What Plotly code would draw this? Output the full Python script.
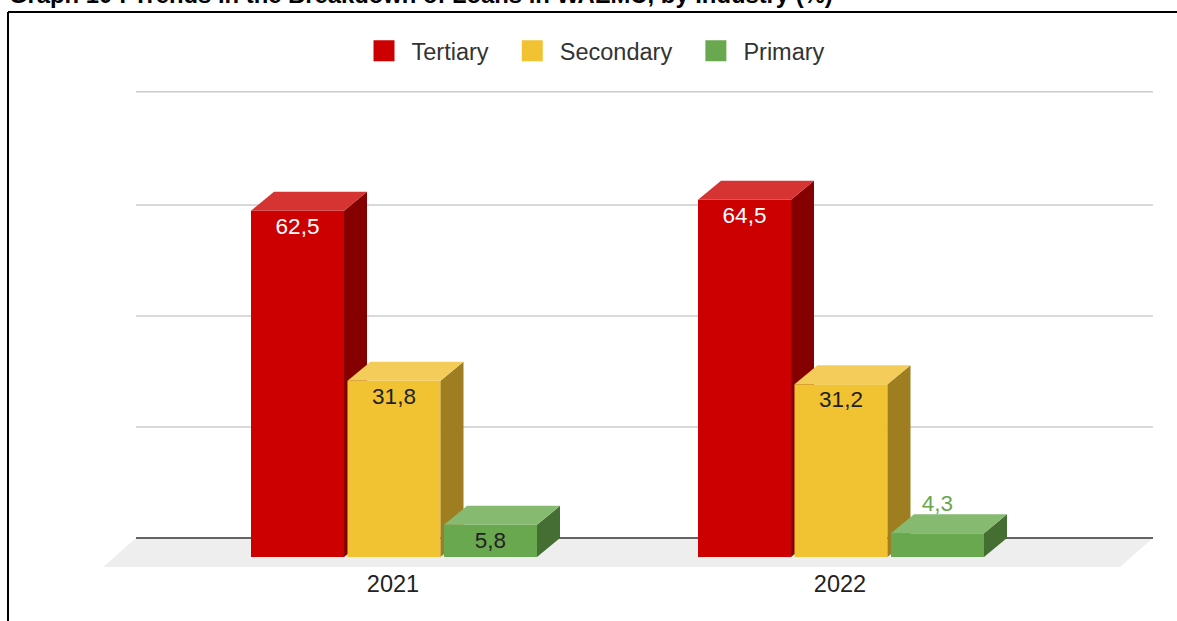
import plotly.graph_objects as go

# Data
years = ["2021", "2022"]
series_names = ["Tertiary", "Secondary", "Primary"]
tertiary = [62.5, 64.5]
secondary = [31.8, 31.2]
primary = [5.8, 4.3]
grid_values = [20, 40, 60, 80.4]
title_text = "Graph 10 : Trends in the Breakdown of Loans in WAEMU, by Industry (%)"

# Style
front = ["#cc0000", "#f1c232", "#6aa84f"]
side = ["#850000", "#9e7e20", "#456e33"]
top = ["#d63333", "#f3cc5a", "#87ba71"]
label_col = ["#ffffff", "#222222", "#222222"]
FONT = "Liberation Sans"
W, H = 1177, 621
L, R, T, B = 103, 24, 80, 54
PX_X = 447.0  # pixels per category
PX_Y = 5.54   # pixels per percentage point
GRID_PX = 5.55  # pixels per percentage point on the back wall
bar_w = 93 / PX_X
pitch = 96.5 / PX_X
center = 2 / PX_X
dx = 23 / PX_X
dy = 19.0 / PX_Y
xr = [(L - 392) / PX_X, (W - R - 392) / PX_X]
yr = [-(567 - 557) / PX_Y, (557 - T) / PX_Y]
floor_l, floor_r = xr[0], xr[1] - 33 / PX_X
floor_bottom = yr[0]
back_l = xr[0] + 33 / PX_X
back_r = xr[1]

fig = go.Figure()

# Legend entries
for i, name in enumerate(series_names):
    fig.add_trace(go.Scatter(
        x=[None], y=[None], mode="markers", name=name + "\u00a0\u2009", legendgroup=name,
        marker=dict(symbol="square", size=16, color=front[i],
                    line=dict(width=5, color=front[i])),
        hoverinfo="skip"))

# Floor
fig.add_trace(go.Scatter(
    x=[floor_l, floor_r, back_r, back_l, floor_l],
    y=[floor_bottom, floor_bottom, dy, dy, floor_bottom],
    mode="lines", fill="toself", fillcolor="#eeeeee",
    line=dict(width=0), showlegend=False, hoverinfo="skip"))
# Grid and baseline on the back wall
for g in grid_values:
    gy = dy + g * GRID_PX / PX_Y
    fig.add_trace(go.Scatter(
        x=[back_l, back_r], y=[gy, gy], mode="lines",
        line=dict(color="#cccccc", width=1.5), showlegend=False, hoverinfo="skip"))
fig.add_trace(go.Scatter(
    x=[back_l, back_r], y=[dy, dy], mode="lines",
    line=dict(color="#333333", width=1.5), showlegend=False, hoverinfo="skip"))

# One overlaid subplot per series, back to front
for s, vals in enumerate([tertiary, secondary, primary]):
    ax = str(s + 2)
    xs = [g + center + (s - 1) * pitch for g in range(len(years))]
    inside = [v >= 5 for v in vals]
    fig.add_trace(go.Bar(
        x=xs, y=vals, width=bar_w, xaxis="x" + ax, yaxis="y" + ax,
        marker=dict(color=front[s], line=dict(width=0)),
        name=series_names[s], legendgroup=series_names[s], showlegend=False,
        text=[f"{v:.1f}".replace(".", ",") if ok else "" for v, ok in zip(vals, inside)],
        textposition=["inside" if ok else "none" for ok in inside],
        insidetextanchor="end", constraintext="none",
        textangle=0,
        insidetextfont=dict(family=FONT, size=22.5, color=label_col[s])))
    for xc, v, ok in zip(xs, vals, inside):
        l, r = xc - bar_w / 2, xc + bar_w / 2
        fig.add_trace(go.Scatter(
            x=[r, r + dx, r + dx, r, r], y=[0, dy, v + dy, v, 0],
            mode="lines", fill="toself", fillcolor=side[s], line=dict(width=0),
            xaxis="x" + ax, yaxis="y" + ax, legendgroup=series_names[s],
            showlegend=False, hoverinfo="skip"))
        fig.add_trace(go.Scatter(
            x=[l, l + dx, r + dx, r, l], y=[v, v + dy, v + dy, v, v],
            mode="lines", fill="toself", fillcolor=top[s], line=dict(width=0),
            xaxis="x" + ax, yaxis="y" + ax, legendgroup=series_names[s],
            showlegend=False, hoverinfo="skip"))
        if not ok:
            fig.add_trace(go.Scatter(
                x=[xc], y=[v + dy - 2 / PX_Y], mode="text",
                text=[f"{v:.1f}".replace(".", ",")], textposition="top center",
                textfont=dict(family=FONT, size=22.5, color=front[s]),
                xaxis="x" + ax, yaxis="y" + ax, legendgroup=series_names[s],
                showlegend=False, hoverinfo="skip"))

layout_axes = {}
for n in ["2", "3", "4"]:
    layout_axes["xaxis" + n] = dict(range=xr, overlaying="x", visible=False)
    layout_axes["yaxis" + n] = dict(range=yr, overlaying="y", visible=False)


def px_x(p):
    return (p - L) / (W - L - R)


def px_y(p):
    return (H - B - p) / (H - T - B)


fig.update_layout(
    width=W, height=H, autosize=False,
    margin=dict(l=L, r=R, t=T, b=B),
    paper_bgcolor="#ffffff", plot_bgcolor="#ffffff",
    barmode="overlay",
    font=dict(family=FONT, size=22, color="#222222"),
    xaxis=dict(range=xr, tickmode="array", tickvals=[g + 1 / PX_X for g in range(len(years))], ticktext=years,
               showgrid=False, zeroline=False, showline=False, ticks="",
               tickfont=dict(family=FONT, size=23.5, color="#222222")),
    yaxis=dict(range=yr, visible=False),
    legend=dict(orientation="h", xanchor="left", yanchor="middle",
                x=px_x(356.5), y=px_y(51), itemwidth=45, itemclick=False, itemdoubleclick=False,
                font=dict(family=FONT, size=23.5, color="#333333"), bgcolor="rgba(0,0,0,0)"),
    showlegend=True,
    annotations=[dict(text=f"<b>{title_text}</b>", xref="paper", yref="paper",
                      x=px_x(7), y=px_y(-5), xanchor="left", yanchor="middle",
                      showarrow=False, font=dict(family=FONT, size=23.8, color="#000000"))],
    shapes=[
        dict(type="line", xref="paper", yref="paper", x0=px_x(8), x1=px_x(W), y0=px_y(12), y1=px_y(12),
             line=dict(color="#000000", width=2)),
        dict(type="line", xref="paper", yref="paper", x0=px_x(8), x1=px_x(8), y0=px_y(12), y1=px_y(H),
             line=dict(color="#000000", width=2)),
    ],
    **layout_axes,
)

fig.write_html("out.html", config={"displayModeBar": False},
               post_script="document.body.style.margin='0';document.body.style.overflow='hidden';")
